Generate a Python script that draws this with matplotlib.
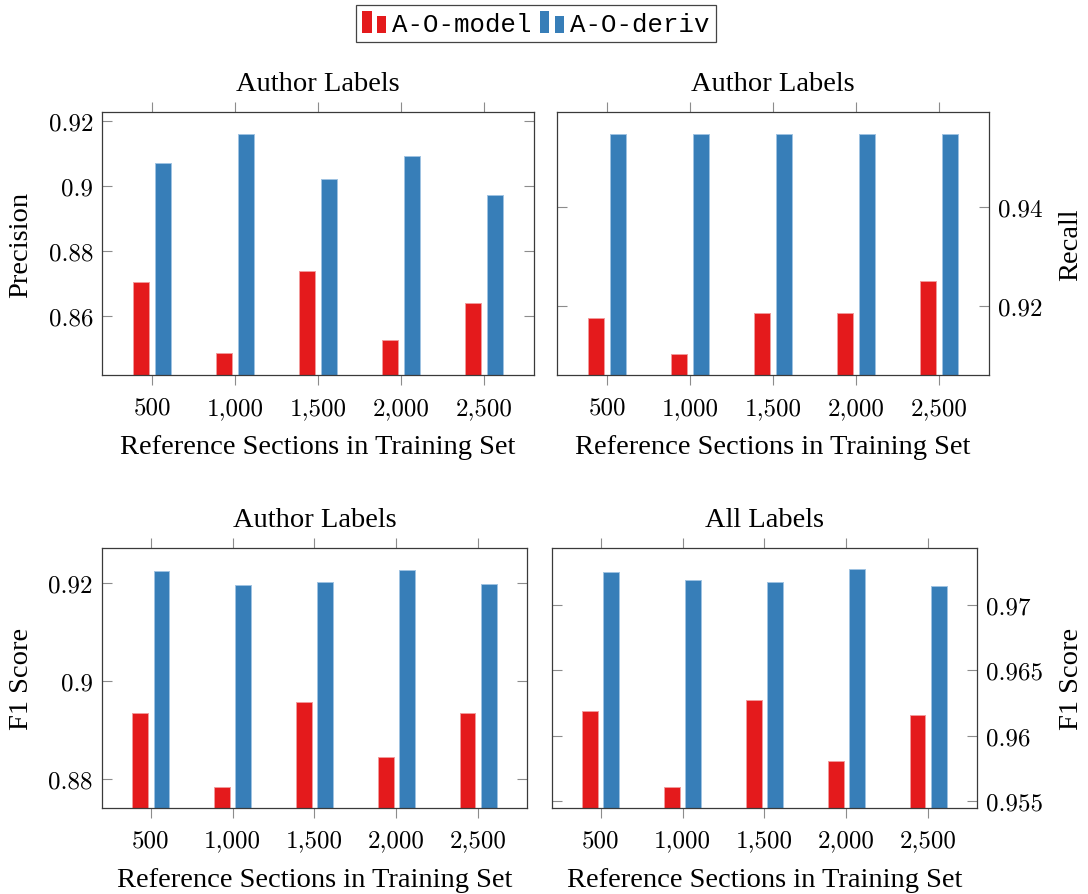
import matplotlib
matplotlib.use("Agg")
import matplotlib.pyplot as plt
from matplotlib.patches import Patch, Rectangle
from matplotlib.legend_handler import HandlerBase

# training set sizes (reference sections)
sizes = [500, 1000, 1500, 2000, 2500]
size_labels = ["500", "1,000", "1,500", "2,000", "2,500"]

# author labels
precision_model = [0.8706, 0.8487, 0.8739, 0.8527, 0.8640]
precision_deriv = [0.9072, 0.9161, 0.9022, 0.9093, 0.8974]
recall_model = [0.9176, 0.9104, 0.9186, 0.9186, 0.9252]
recall_deriv = [0.9547, 0.9547, 0.9547, 0.9547, 0.9547]
f1_model = [0.8935, 0.8784, 0.8957, 0.8844, 0.8935]
f1_deriv = [0.9224, 0.9196, 0.9203, 0.9227, 0.9199]

# all labels
f1_all_model = [0.9619, 0.9561, 0.9627, 0.9581, 0.9616]
f1_all_deriv = [0.9725, 0.9719, 0.9717, 0.9727, 0.9714]

RED = "#e41a1c"
BLUE = "#377eb8"
RED_EDGE = "#f29a9b"
BLUE_EDGE = "#9fc3e2"

TEXT_FONT = "Liberation Serif"
TEXT_SIZE = 20.5
NUM_FONT = "cmr10"

plt.rcParams["axes.formatter.use_mathtext"] = True
plt.rcParams["mathtext.fontset"] = "cm"


class TwinBarHandler(HandlerBase):
    """Legend image drawn as two small bars, like a pgfplots ybar legend."""

    def create_artists(self, legend, orig_handle, xdescent, ydescent,
                       width, height, fontsize, trans):
        color = orig_handle.get_facecolor()
        w = width * 0.39
        x0, y0 = -xdescent, -ydescent
        tall = Rectangle((x0, y0), w, height, facecolor=color,
                         edgecolor="none", transform=trans)
        short = Rectangle((x0 + width - w, y0), w, height * 0.79,
                          facecolor=color, edgecolor="none", transform=trans)
        return [tall, short]


def bar_panel(ax, model, deriv, ylim, yticks, ylabel, title, right=False):
    offset = 65
    width = 96
    ax.bar([s - offset for s in sizes], model, width, color=RED,
           edgecolor=RED_EDGE, linewidth=0.7, zorder=2)
    ax.bar([s + offset for s in sizes], deriv, width, color=BLUE,
           edgecolor=BLUE_EDGE, linewidth=0.7, zorder=2)

    ax.set_xlim(200, 2800)
    ax.set_ylim(*ylim)
    ax.set_xticks(sizes)
    ax.set_xticklabels(size_labels, fontfamily=NUM_FONT, fontsize=18)
    ax.set_yticks(yticks)
    ax.set_yticklabels([f"{t:g}" for t in yticks], fontfamily=NUM_FONT,
                       fontsize=18)

    ax.tick_params(axis="x", direction="out", top=True, bottom=True,
                   length=7.2, width=0.8, color="#8c8c8c", pad=8.5)
    ax.tick_params(axis="y", direction="in", left=True, right=True,
                   length=7.2, width=0.8, color="#8c8c8c", pad=6.5)
    if right:
        ax.yaxis.tick_right()
        ax.tick_params(axis="y", left=True, right=True)
    for sp in ax.spines.values():
        sp.set_color("#3a3a3a")
        sp.set_linewidth(0.9)

    ax.set_title(title, fontfamily=TEXT_FONT, fontsize=TEXT_SIZE, y=1.0, pad=16)
    ax.set_xlabel("Reference Sections in Training Set", fontfamily=TEXT_FONT,
                  fontsize=TEXT_SIZE)
    ax.set_ylabel(ylabel, fontfamily=TEXT_FONT, fontsize=TEXT_SIZE)
    if right:
        ax.yaxis.set_label_position("right")


fig = plt.figure(figsize=(10.88, 8.95), dpi=100)

ax_p = fig.add_axes([0.0940, 0.5799, 0.3965, 0.2939])
ax_r = fig.add_axes([0.5122, 0.5799, 0.3966, 0.2939])
ax_f = fig.add_axes([0.0935, 0.0964, 0.3911, 0.2898])
ax_a = fig.add_axes([0.5069, 0.0964, 0.3914, 0.2898])

bar_panel(ax_p, precision_model, precision_deriv, (0.84194, 0.92286),
          [0.86, 0.88, 0.9, 0.92], "Precision", "Author Labels")
bar_panel(ax_r, recall_model, recall_deriv, (0.90612, 0.95925),
          [0.92, 0.94], "Recall", "Author Labels", right=True)
bar_panel(ax_f, f1_model, f1_deriv, (0.87407, 0.92709),
          [0.88, 0.9, 0.92], "F1 Score", "Author Labels")
bar_panel(ax_a, f1_all_model, f1_all_deriv, (0.95451, 0.97430),
          [0.955, 0.96, 0.965, 0.97], "F1 Score", "All Labels", right=True)

# label placement
ax_p.yaxis.set_label_coords(-0.1885, 0.5)
ax_f.yaxis.set_label_coords(-0.1897, 0.5)
ax_r.yaxis.set_label_coords(1.1896, 0.5)
ax_a.yaxis.set_label_coords(1.2200, 0.5)
for ax in (ax_p, ax_r, ax_f, ax_a):
    ax.yaxis.label.set_va("center")
    ax.xaxis.label.set_va("baseline")
ax_p.xaxis.set_label_coords(0.5, -0.2966)
ax_r.xaxis.set_label_coords(0.5, -0.2966)
ax_f.xaxis.set_label_coords(0.5, -0.3007)
ax_a.xaxis.set_label_coords(0.5, -0.3007)

handles = [Patch(facecolor=RED), Patch(facecolor=BLUE)]
leg = fig.legend(handles, ["A-O-model", "A-O-deriv"],
                 handler_map={Patch: TwinBarHandler()},
                 loc="upper center", bbox_to_anchor=(535.8 / 1088, 1 - 6 / 895),
                 ncol=2, prop={"family": "Liberation Mono", "size": 18.5},
                 handlelength=0.92, handleheight=0.9, handletextpad=0.23,
                 columnspacing=0.34, borderpad=0.25, borderaxespad=0,
                 fancybox=False, framealpha=1, edgecolor="#444444")
leg.get_frame().set_linewidth(0.9)

fig.savefig("out.png", dpi=100)
